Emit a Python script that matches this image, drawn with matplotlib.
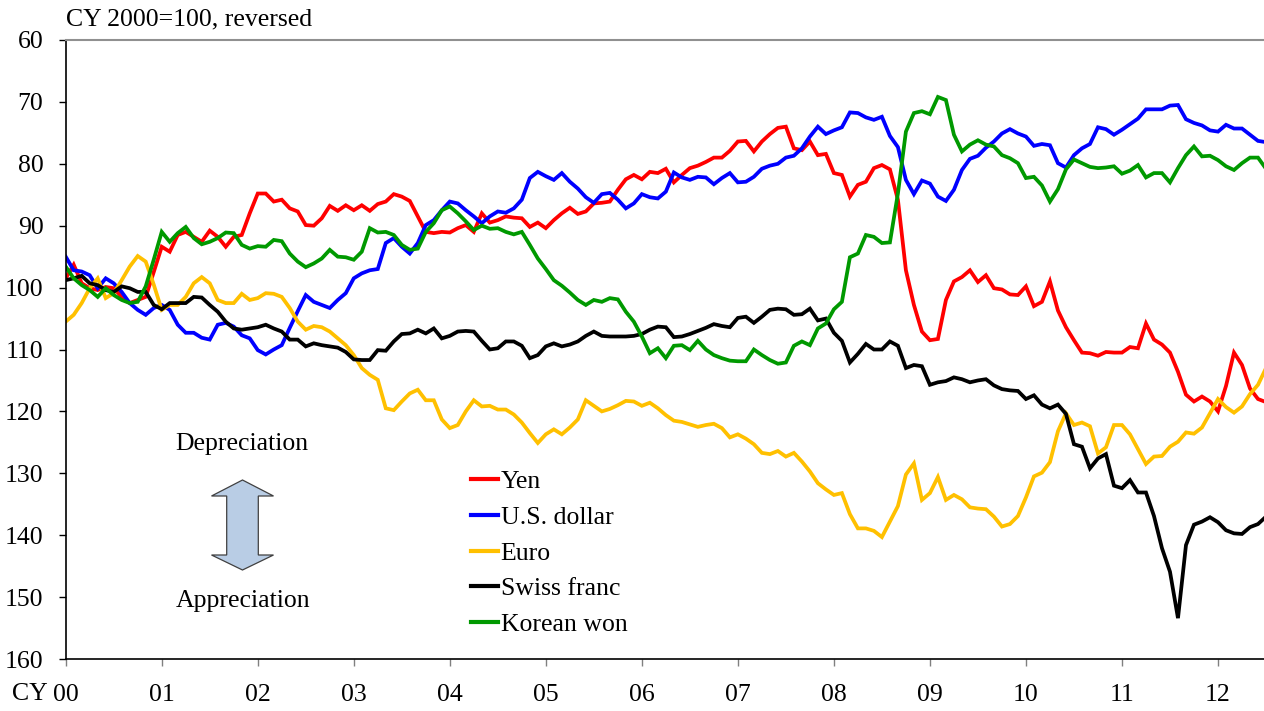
import matplotlib
matplotlib.use("Agg")
import matplotlib.pyplot as plt
import matplotlib.patches as mpatches
import numpy as np

plt.rcParams['font.family'] = ['Liberation Serif', 'DejaVu Serif']

# Monthly index values (CY 2000 = 100), Jan 2000 .. Jul 2012
yen = [98.5, 96.3, 99.3, 100.1, 100.4, 99.9, 100.1, 101.5, 102.5, 102.0,
       101.5, 97.5, 93.4, 94.2, 91.5, 91.0, 91.8, 92.6, 90.8, 91.8,
       93.4, 91.8, 91.5, 88.0, 84.8, 84.8, 86.1, 85.8, 87.2, 87.7,
       89.9, 90.0, 88.8, 86.8, 87.6, 86.7, 87.5, 86.7, 87.6, 86.5,
       86.1, 84.9, 85.3, 86.0, 88.5, 91.0, 91.2, 91.0, 91.1, 90.4,
       89.9, 91.0, 88.0, 89.5, 89.1, 88.5, 88.7, 88.8, 90.2, 89.5,
       90.4, 89.1, 88.0, 87.1, 88.1, 87.7, 86.4, 86.3, 86.1, 84.2,
       82.5, 81.8, 82.5, 81.3, 81.5, 80.8, 83.0, 81.8, 80.7, 80.3,
       79.7, 79.0, 79.0, 77.9, 76.4, 76.3, 78.0, 76.4, 75.2, 74.2,
       74.0, 77.5, 77.8, 76.4, 78.6, 78.4, 81.5, 81.8, 85.3, 83.4,
       82.9, 80.7, 80.2, 80.9, 85.8, 97.2, 102.8, 107.1, 108.5, 108.3,
       102.0, 99.0, 98.3, 97.2, 99.1, 98.0, 100.1, 100.3, 101.1, 101.2,
       99.8, 103.0, 102.3, 99.0, 103.7, 106.4, 108.5, 110.5, 110.6, 111.0,
       110.4, 110.5, 110.5, 109.6, 109.8, 105.8, 108.4, 109.2, 110.5, 113.6,
       117.3, 118.4, 117.6, 118.4, 120.0, 115.9, 110.5, 112.5, 116.3, 118.0, 118.5]

usd = [95.0, 97.2, 97.4, 98.0, 100.1, 98.5, 99.3, 100.7, 102.5, 103.6,
       104.4, 103.3, 102.8, 103.6, 106.0, 107.3, 107.3, 108.1, 108.4, 106.0,
       105.7, 106.3, 107.7, 108.2, 110.1, 110.8, 110.0, 109.3, 106.5, 103.8,
       101.2, 102.3, 102.8, 103.3, 102.0, 100.9, 98.5, 97.7, 97.2, 97.0,
       92.8, 92.0, 93.4, 94.5, 92.8, 89.9, 89.1, 87.5, 86.1, 86.4,
       87.5, 88.5, 89.6, 88.5, 87.7, 87.9, 87.2, 85.8, 82.3, 81.3,
       82.0, 82.6, 81.5, 82.9, 84.0, 85.4, 86.3, 84.9, 84.7, 85.8,
       87.2, 86.4, 84.9, 85.4, 85.6, 84.5, 81.4, 82.2, 82.6, 82.1,
       82.2, 83.3, 82.3, 81.5, 83.0, 82.9, 82.1, 80.8, 80.3, 80.0,
       79.0, 78.7, 77.5, 75.6, 74.0, 75.2, 74.6, 74.1, 71.7, 71.8,
       72.5, 72.9, 72.4, 75.5, 77.3, 82.6, 84.9, 82.7, 83.2, 85.3,
       86.0, 84.2, 81.0, 79.2, 78.7, 77.4, 76.4, 75.1, 74.4, 75.1,
       75.6, 77.1, 76.8, 77.0, 79.9, 80.6, 78.6, 77.5, 76.8, 74.1,
       74.4, 75.3, 74.5, 73.6, 72.7, 71.2, 71.2, 71.2, 70.6, 70.5,
       72.8, 73.4, 73.8, 74.6, 74.8, 73.7, 74.3, 74.3, 75.3, 76.3, 76.5]

euro = [105.5, 104.4, 102.5, 100.1, 98.5, 101.7, 100.9, 98.8, 96.6, 94.9,
        95.8, 99.5, 103.6, 102.8, 102.8, 101.5, 99.3, 98.3, 99.3, 102.0,
        102.5, 102.5, 101.0, 102.0, 101.7, 100.9, 101.0, 101.5, 103.3, 105.5,
        106.8, 106.2, 106.4, 107.1, 108.2, 109.3, 110.9, 113.0, 114.1, 114.9,
        119.5, 119.8, 118.4, 117.1, 116.5, 118.2, 118.2, 121.3, 122.7, 122.2,
        120.0, 118.2, 119.2, 119.1, 119.7, 119.7, 120.5, 121.8, 123.5, 125.1,
        123.7, 122.9, 123.7, 122.6, 121.3, 118.2, 119.1, 120.0, 119.6, 119.0,
        118.3, 118.4, 119.1, 118.6, 119.5, 120.6, 121.5, 121.7, 122.1, 122.5,
        122.2, 122.0, 122.7, 124.2, 123.7, 124.4, 125.3, 126.7, 126.9, 126.4,
        127.3, 126.7, 128.1, 129.7, 131.6, 132.6, 133.5, 133.2, 136.6, 138.9,
        138.9, 139.3, 140.3, 137.8, 135.3, 130.2, 128.4, 134.3, 133.2, 130.6,
        134.3, 133.5, 134.2, 135.5, 135.7, 135.8, 137.0, 138.6, 138.2, 136.9,
        133.9, 130.5, 129.9, 128.2, 123.2, 120.3, 122.2, 121.8, 122.4, 126.8,
        125.8, 122.2, 122.2, 123.7, 126.1, 128.5, 127.3, 127.2, 125.7, 124.9,
        123.4, 123.6, 122.6, 120.3, 118.0, 119.3, 120.2, 119.2, 117.2, 115.7, 113.0]

chf = [98.8, 98.5, 98.1, 99.3, 99.6, 100.4, 100.7, 99.8, 100.1, 100.7,
       100.7, 102.8, 103.5, 102.5, 102.5, 102.5, 101.5, 101.6, 102.8, 103.9,
       105.5, 106.6, 106.8, 106.6, 106.4, 106.0, 106.6, 107.1, 108.4, 108.4,
       109.5, 109.0, 109.3, 109.5, 109.7, 110.4, 111.6, 111.7, 111.7, 110.1,
       110.2, 108.7, 107.5, 107.4, 106.8, 107.4, 106.6, 108.2, 107.8, 107.1,
       107.0, 107.1, 108.6, 110.0, 109.8, 108.7, 108.7, 109.4, 111.4, 110.9,
       109.5, 109.0, 109.5, 109.2, 108.7, 107.8, 107.1, 107.8, 107.9, 107.9,
       107.9, 107.8, 107.5, 106.8, 106.3, 106.4, 108.0, 107.9, 107.5, 107.0,
       106.5, 105.9, 106.2, 106.4, 104.9, 104.7, 105.7, 104.7, 103.6, 103.4,
       103.5, 104.4, 104.3, 103.4, 105.3, 105.0, 107.3, 108.6, 112.1, 110.7,
       109.1, 110.0, 110.0, 108.7, 109.4, 113.0, 112.5, 112.7, 115.7, 115.3,
       115.1, 114.5, 114.8, 115.3, 115.0, 114.8, 115.8, 116.4, 116.6, 116.7,
       118.0, 117.4, 118.9, 119.5, 118.9, 120.4, 125.3, 125.7, 129.2, 127.6,
       126.9, 132.0, 132.4, 131.1, 133.1, 133.1, 136.9, 142.1, 145.9, 153.4,
       141.6, 138.3, 137.8, 137.1, 137.9, 139.2, 139.7, 139.8, 138.7, 138.2, 137.0]

krw = [96.6, 98.5, 99.6, 100.4, 101.5, 100.1, 101.2, 102.0, 102.5, 102.3,
       99.8, 95.5, 91.0, 92.6, 91.2, 90.2, 92.0, 93.0, 92.6, 92.0,
       91.1, 91.2, 93.1, 93.7, 93.3, 93.4, 92.3, 92.5, 94.5, 95.8,
       96.7, 96.1, 95.3, 93.9, 95.0, 95.1, 95.5, 94.2, 90.4, 91.1,
       91.0, 91.5, 93.1, 93.9, 93.7, 91.0, 89.6, 87.5, 86.9, 88.0,
       89.3, 90.7, 90.0, 90.5, 90.4, 91.0, 91.4, 91.0, 93.1, 95.3,
       97.0, 98.8, 99.7, 100.8, 102.0, 102.8, 102.0, 102.3, 101.7, 101.9,
       103.9, 105.5, 107.9, 110.6, 109.8, 111.4, 109.4, 109.3, 110.1, 108.6,
       110.0, 110.9, 111.4, 111.8, 111.9, 111.9, 110.0, 110.9, 111.7, 112.3,
       112.1, 109.4, 108.7, 109.3, 106.6, 105.8, 103.5, 102.3, 95.1, 94.5,
       91.5, 91.8, 92.8, 92.7, 84.8, 74.8, 71.8, 71.5, 72.0, 69.2,
       69.7, 75.3, 78.0, 76.9, 76.2, 76.9, 77.2, 78.6, 79.1, 79.9,
       82.3, 82.1, 83.5, 86.1, 84.1, 80.9, 79.3, 79.9, 80.5, 80.7,
       80.6, 80.4, 81.6, 81.1, 80.2, 82.2, 81.5, 81.5, 83.0, 80.7,
       78.6, 77.2, 78.8, 78.7, 79.4, 80.4, 81.0, 79.9, 79.0, 79.0, 80.8]

series_names = ["Yen", "U.S. dollar", "Euro", "Swiss franc", "Korean won"]
series_values = [yen, usd, euro, chf, krw]
series_colors = ["#FF0000", "#0000FF", "#FFC000", "#000000", "#009900"]

year_labels = ["00", "01", "02", "03", "04", "05", "06", "07", "08", "09", "10", "11", "12"]
y_ticks = [60, 70, 80, 90, 100, 110, 120, 130, 140, 150, 160]

FS = 18.5
W, H = 1264, 711
fig = plt.figure(figsize=(W / 100, H / 100), dpi=100)
ax = fig.add_axes([65.7 / W, (H - 659) / H, (W - 65.7) / W, 619 / H])

months = np.arange(len(yen))
for name, vals, col in zip(series_names, series_values, series_colors):
    ax.plot(months, vals, color=col, lw=2.7, label=name, solid_joinstyle='miter')

ax.set_xlim(0, 149.75)
ax.set_ylim(160, 60)
ax.set_xticks(np.arange(len(year_labels)) * 12)
ax.set_xticklabels(year_labels)
ax.set_yticks(y_ticks)
ax.tick_params(axis='both', direction='out', length=5, width=1, labelsize=FS)
ax.tick_params(axis='y', pad=11)
ax.tick_params(axis='x', pad=13, color='#808080')

ax.spines['right'].set_visible(False)
ax.spines['top'].set_color('#909090')
ax.spines['top'].set_linewidth(1.5)
ax.spines['left'].set_linewidth(1.2)
ax.spines['bottom'].set_linewidth(1.2)

# Texts
fig.text(66 / W, 1 - 19 / H, "CY 2000=100, reversed", fontsize=FS, ha='left', va='center')
fig.text(12 / W, 1 - 694 / H, "CY", fontsize=FS, ha='left', va='center')
fig.text(242 / W, 1 - 444 / H, "Depreciation", fontsize=FS, ha='center', va='center')
fig.text(243 / W, 1 - 601 / H, "Appreciation", fontsize=FS, ha='center', va='center')

# Double-headed block arrow
cx = 242.5
pts_px = [(cx, 480), (273.5, 496), (258.3, 496), (258.3, 555), (273.5, 555),
          (cx, 570), (211.5, 555), (226.7, 555), (226.7, 496), (211.5, 496)]
pts = [(x / W, 1 - y / H) for x, y in pts_px]
arrow = mpatches.Polygon(pts, closed=True, facecolor='#B9CDE5', edgecolor='#404040',
                         lw=0.9, transform=fig.transFigure)
fig.patches.append(arrow)

leg = ax.legend(loc='upper left', bbox_to_anchor=((471 - 65.7) / (W - 65.7), (659 - 470) / 619),
                frameon=False, fontsize=FS, handlelength=1.05, handletextpad=0.1,
                labelspacing=0.5, borderaxespad=0, borderpad=0)
for line in leg.get_lines():
    line.set_linewidth(3)

fig.savefig("out.png", dpi=100)
